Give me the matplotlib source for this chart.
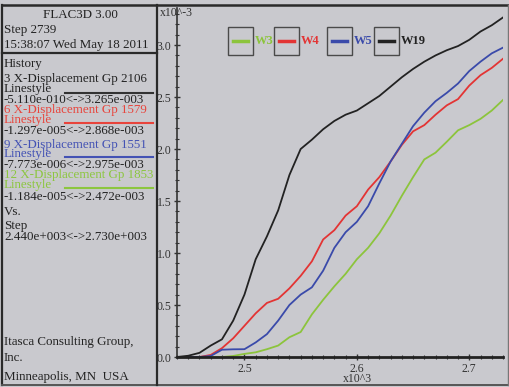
import matplotlib.pyplot as plt
import numpy as np
from matplotlib.patches import Rectangle
from matplotlib.ticker import MultipleLocator

# step numbers and x-displacements (x10^-3)
steps = np.arange(2440, 2731, 10)
w19 = [0.0, 0.012, 0.04, 0.11, 0.17, 0.35, 0.60, 0.94, 1.16, 1.41,
       1.75, 2.0, 2.09, 2.19, 2.27, 2.33, 2.37, 2.44, 2.51, 2.60,
       2.69, 2.77, 2.84, 2.90, 2.95, 2.99, 3.05, 3.13, 3.19, 3.265]
w4 = [0.0, 0.0, 0.0, 0.02, 0.085, 0.18, 0.30, 0.42, 0.52, 0.56,
      0.66, 0.78, 0.92, 1.13, 1.22, 1.36, 1.45, 1.61, 1.73, 1.88,
      2.04, 2.17, 2.23, 2.33, 2.42, 2.48, 2.61, 2.71, 2.78, 2.868]
w5 = [0.0, 0.0, 0.0, 0.01, 0.07, 0.074, 0.075, 0.14, 0.22, 0.35,
      0.50, 0.60, 0.67, 0.83, 1.05, 1.20, 1.30, 1.45, 1.67, 1.88,
      2.05, 2.22, 2.35, 2.46, 2.54, 2.63, 2.75, 2.84, 2.92, 2.975]
w3 = [0.0, 0.0, 0.0, 0.0, 0.0, 0.01, 0.03, 0.045, 0.075, 0.11,
      0.19, 0.24, 0.41, 0.55, 0.68, 0.80, 0.94, 1.05, 1.19, 1.36,
      1.55, 1.73, 1.90, 1.965, 2.07, 2.18, 2.23, 2.29, 2.37, 2.472]

names = ["W3", "W4", "W5", "W19"]
series = [w3, w4, w5, w19]
colors = ["#8cc43c", "#e33434", "#3a4aaa", "#222222"]

# text of the left info panel
panel_lines = [
    ("Step 2739", "k"),
    ("15:38:07 Wed May 18 2011", "k"),
    ("History", "k"),
    ("3 X-Displacement Gp 2106", "k"),
    ("Linestyle", "k"),
    ("-5.110e-010<->3.265e-003", "k"),
    ("6 X-Displacement Gp 1579", "#e8443c"),
    ("Linestyle", "#e8443c"),
    ("-1.297e-005<->2.868e-003", "k"),
    ("9 X-Displacement Gp 1551", "#4352b4"),
    ("Linestyle", "#4352b4"),
    ("-7.773e-006<->2.975e-003", "k"),
    ("12 X-Displacement Gp 1853", "#8cc63f"),
    ("Linestyle", "#8cc63f"),
    ("-1.184e-005<->2.472e-003", "k"),
    ("Vs.", "k"),
    ("Step", "k"),
    ("2.440e+003<->2.730e+003", "k"),
]
panel_y = [30, 45, 64, 79, 89, 100, 110, 120, 131, 145, 154, 165,
           175, 185, 197, 212, 226, 237]
footer = ["Itasca Consulting Group,", "Inc.", "Minneapolis, MN  USA"]
footer_y = [342, 358, 377]

bg = "#c9c9ce"
dark = "#2a2a2a"
serif = "Liberation Serif"
fs = 9.4

fig = plt.figure(figsize=(5.09, 3.87), dpi=100, facecolor=bg)

ax = fig.add_axes([177 / 509, 30 / 387, 326 / 509, 349 / 387])
ax.set_facecolor("none")
x = steps / 1000.0
for ys, c in zip(series, colors):
    ax.plot(x, ys, color=c, lw=1.3)
ax.set_xlim(2.44, 2.73)
ax.set_ylim(0, 3.356)
for s in ["top", "right"]:
    ax.spines[s].set_visible(False)
ax.spines["left"].set_color("#333333")
ax.spines["left"].set_linewidth(1.2)
ax.spines["bottom"].set_color("#222222")
ax.spines["bottom"].set_linewidth(2.0)
ax.set_xticks([2.5, 2.6, 2.7])
ax.set_xticklabels(["2.5", "2.6", "2.7"])
ax.set_yticks(np.arange(0, 3.01, 0.5))
ax.set_yticklabels(["%.1f" % v for v in np.arange(0, 3.01, 0.5)])
ax.xaxis.set_minor_locator(MultipleLocator(0.01))
ax.yaxis.set_minor_locator(MultipleLocator(0.1))
ax.tick_params(which="major", direction="inout", length=5, width=1,
               color="#333333", labelsize=8.5, labelcolor="#333333", pad=1.5)
ax.tick_params(which="minor", direction="inout", length=3, width=0.8,
               color="#333333")
for lab in ax.get_xticklabels() + ax.get_yticklabels():
    lab.set_fontfamily(serif)

# overlay in pixel coordinates for frame, panel and legend
ov = fig.add_axes([0, 0, 1, 1], zorder=5)
ov.set_xlim(0, 509)
ov.set_ylim(387, 0)
ov.axis("off")
ov.patch.set_alpha(0)

ov.plot([2.5, 508], [4.5, 4.5], color=dark, lw=1.8)
ov.plot([2.5, 2.5], [4.5, 384.5], color=dark, lw=1.6)
ov.plot([2.5, 508], [384.5, 384.5], color="#555555", lw=1.4)
ov.plot([508, 508], [4.5, 384.5], color="#777777", lw=1.0)
ov.plot([157, 157], [4.5, 384.5], color=dark, lw=1.6)
ov.plot([2.5, 157], [53, 53], color=dark, lw=1.6)

clip = Rectangle((3, 5), 154, 380, transform=ov.transData)
ov.text(80, 15, "FLAC3D 3.00", ha="center", va="center", fontsize=fs,
        family=serif, color="#222222")
for (txt, c), yy in zip(panel_lines, panel_y):
    t = ov.text(4, yy, txt, ha="left", va="center", fontsize=fs,
                family=serif, color="#222222" if c == "k" else c)
    t.set_clip_path(clip)
ls_colors = ["#333333", "#e8443c", "#4352b4", "#8cc63f"]
for yy, c in zip([92.5, 123, 157, 188], ls_colors):
    ov.plot([65, 153], [yy, yy], color=c, lw=1.5)
for txt, yy in zip(footer, footer_y):
    ov.text(4, yy, txt, ha="left", va="center", fontsize=fs,
            family=serif, color="#222222")

ov.text(160, 13, "x10^-3", ha="left", va="center", fontsize=8.5,
        family=serif, color="#333333")
ov.text(357, 379, "x10^3", ha="center", va="center", fontsize=8.5,
        family=serif, color="#333333")

# legend boxes
box_x = [228, 274, 327, 374]
for bx, name, c in zip(box_x, names, colors):
    ov.add_patch(Rectangle((bx, 27), 25, 28, fill=False, ec="#4a4a4a", lw=1.0))
    ov.plot([bx + 5, bx + 20], [41, 41], color=c, lw=2.5)
    ov.text(bx + 27, 41, name, ha="left", va="center", fontsize=9,
            family=serif, fontweight="bold", color=c)

fig.savefig("out.png", dpi=100, facecolor=bg)
